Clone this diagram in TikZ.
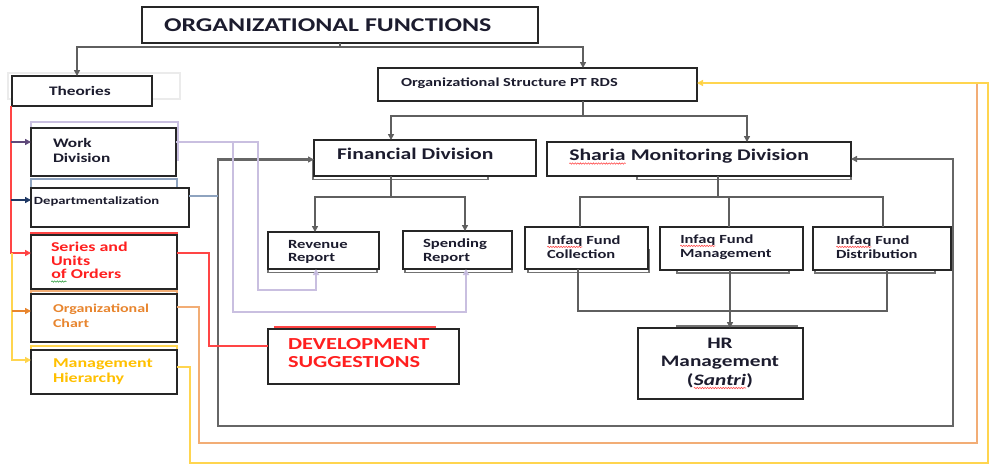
\documentclass[tikz,border=0pt]{standalone}
\usepackage{fontspec}
\newfontfamily\cf[FakeStretch=1.33]{Carlito}
\usetikzlibrary{arrows.meta,calc,decorations.pathmorphing}

\definecolor{ink}{HTML}{1C1C2E}
\definecolor{treegray}{HTML}{5F5F5F}
\definecolor{loopgray}{HTML}{666666}
\definecolor{lav}{HTML}{C9BFE0}
\definecolor{lavtip}{HTML}{B3A2D8}
\definecolor{purp}{HTML}{5F497A}
\definecolor{navyc}{HTML}{1F3864}
\definecolor{steel}{HTML}{8EA3BF}
\definecolor{redl}{HTML}{FF4545}
\definecolor{redt}{HTML}{FF1F1F}
\definecolor{orl}{HTML}{F2AD75}
\definecolor{ort}{HTML}{E8852E}
\definecolor{yel}{HTML}{FFD54F}
\definecolor{yelt}{HTML}{FFC000}
\definecolor{greenw}{HTML}{2E9E3E}

% font size helper
\newcommand\fs[2]{\fontsize{#1}{#2}\selectfont}
% box given by its corner coordinates
\newcommand\boxnode[5]{\node[box, minimum width={(#4-#2)*1pt}, minimum height={(#5-#3)*1pt}] (#1) at ({(#2+#4)/2},{(#3+#5)/2}) {};}
% word with a wavy proofing underline
\newcommand\spell[2]{\tikz[baseline=(sq.base)]{\node[inner sep=0pt,outer sep=0pt,anchor=base] (sq) {#2};\draw[#1,line width=0.55pt,decorate,decoration={snake,amplitude=0.7pt,segment length=2.6pt}] ([yshift=-2.6pt]sq.base west) -- ([yshift=-2.6pt]sq.base east);}}

\begin{document}
\begin{tikzpicture}[x=1pt,y=-1pt,
  box/.style={draw=black!85, line width=1.3pt, fill=white, inner sep=0pt, outer sep=0pt},
  backbox/.style={line width=1.1pt},
  shadowbox/.style={draw=black!55, line width=1.1pt, fill=white},
  tree/.style={draw=treegray, line width=1.8pt},
  arr/.style={-{Triangle[length=6pt,width=6pt]}},
  bigloop/.style={draw=loopgray, line width=2.2pt, {Triangle[length=6pt,width=6pt]}-{Triangle[length=6pt,width=6pt]}},
  lavline/.style={draw=lav, line width=1.5pt, -{Triangle[length=6pt,width=6pt,fill=lavtip]}},
  redline/.style={draw=redl, line width=1.5pt},
  orline/.style={draw=orl, line width=1.6pt},
  yelline/.style={draw=yel, line width=1.6pt},
  lbl/.style={inner sep=0pt, outer sep=0pt, anchor=west, align=left, text=ink}]

\useasboundingbox (0,0) rectangle (989,464);
\fill[white] (0,0) rectangle (989,464);

% coloured frames behind the left-hand boxes
\draw[backbox, draw=black!8] (8,73) rectangle (180,99);
\draw[backbox, draw=lav] (31,122) rectangle (178,160);
\draw[backbox, draw=steel] (31,179) rectangle (177,195);
\draw[backbox, draw=redl] (31,233) rectangle (177,250);
\draw[backbox, draw=orl] (31,291) rectangle (177,310);
\draw[backbox, draw=yel] (31,346) rectangle (177,365);
\draw[backbox, draw=redl] (275,327) rectangle (435,340);

% offset frames under the chart boxes
\draw[shadowbox] (313,160) rectangle (488,179.5);
\draw[shadowbox] (637,160) rectangle (851,179.5);
\draw[shadowbox] (268,250) rectangle (377,272.5);
\draw[shadowbox] (405,250) rectangle (512,272.5);
\draw[shadowbox] (528,250) rectangle (649,272.5);
\draw[shadowbox] (677,250) rectangle (789,273);
\draw[shadowbox] (815,250) rectangle (935,273);
\draw[shadowbox] (677,326) rectangle (797,340);

% boxes
\boxnode{title}{142}{7}{538}{43}
\boxnode{theories}{12}{76}{152}{106}
\boxnode{work}{31}{128}{176}{176}
\boxnode{dept}{31}{188}{189}{227}
\boxnode{series}{31}{235}{177}{289}
\boxnode{orgchart}{31}{294}{177}{342}
\boxnode{mgmt}{31}{350}{177}{394}
\boxnode{orgstruct}{378}{68}{697}{101}
\boxnode{fin}{314}{140}{536}{176}
\boxnode{sharia}{547}{142}{851}{176}
\boxnode{revenue}{268}{232}{379}{269}
\boxnode{spending}{403}{231}{512}{269}
\boxnode{coll}{525}{227}{648}{269}
\boxnode{mgmtf}{660}{227}{803}{270}
\boxnode{dist}{813}{227}{951}{270}
\boxnode{hr}{638}{328}{803}{399}
\boxnode{dev}{268}{329}{459}{384}

% junction points
\coordinate (hb) at (730,311);
\coordinate (bl) at (218,426);
\coordinate (br) at (953,426);
\coordinate (dj) at (218,196);
\coordinate (rl) at (11,106);
\coordinate (wa) at (258,290);
\coordinate (wj) at (233,142);
\coordinate (wb) at (466,312);
\coordinate (rj) at (209,300);
\coordinate (o1) at (199,443);
\coordinate (o2) at (977,443);
\coordinate (o3) at (977,83);
\coordinate (y1) at (190,463);
\coordinate (y2) at (988,463);

% hierarchy connectors
\draw[tree] (title.south) -- ++(0,4) coordinate (tb);
\draw[tree,arr] (tb) -| ([xshift=-5pt]theories.north);
\draw[tree,arr] (tb) -| ([xshift=45.5pt]orgstruct.north);
\draw[tree] ([xshift=45.5pt]orgstruct.south) -- ++(0,15) coordinate (ob);
\draw[tree,arr] (ob) -| ([xshift=-34pt]fin.north);
\draw[tree,arr] (ob) -| ([xshift=48pt]sharia.north);
\draw[tree] ([xshift=-34pt]fin.south) -- ++(0,21) coordinate (fb);
\draw[tree,arr] (fb) -| ([xshift=-8.5pt]revenue.north);
\draw[tree,arr] (fb) -| ([xshift=7.5pt]spending.north);
\draw[tree] ([xshift=19pt]sharia.south) -- ++(0,21) coordinate (sb);
\draw[tree] (sb) -| ([xshift=-6.5pt]coll.north);
\draw[tree] (sb) -| ([xshift=-2.5pt]mgmtf.north);
\draw[tree] (sb) -| ([xshift=1pt]dist.north);
\draw[tree] ([xshift=-8.5pt]coll.south) |- (hb) -| ([xshift=5pt]dist.south);
\draw[tree,arr] ([xshift=-1.5pt]mgmtf.south) -- ([xshift=9.5pt]hr.north);

% frame round the two divisions
\draw[bigloop] ([yshift=-1.5pt]fin.west) -| (bl) -- (br) |- (sharia.east);
\draw[draw=steel, line width=1.4pt] ([yshift=11.5pt]dept.east) -- (dj);

% left-hand feed from the theories
\draw[redline, -{Triangle[length=6pt,width=6pt,fill=redt]}] (rl) |- ([yshift=9pt]series.west);
\draw[draw=purp, line width=1.4pt, -{Triangle[length=6pt,width=6pt]}] ($(work.west)+(-20,-10)$) -- ([yshift=10pt]work.west);
\draw[draw=navyc, line width=1.4pt, -{Triangle[length=6pt,width=6pt]}] ($(dept.west)+(-20,-7.5)$) -- ([yshift=7.5pt]dept.west);
\draw[yelline, -{Triangle[length=6pt,width=6pt,fill=yelt]}] ($(series.west)+(-19,-9)$) |- ([yshift=12pt]mgmt.west);
\draw[draw=ort, line width=1.4pt, -{Triangle[length=6pt,width=6pt]}] ($(orgchart.west)+(-19,-7)$) -- ([yshift=7pt]orgchart.west);

% links out of the left-hand boxes
\draw[lavline] ([yshift=10pt]work.east) -| (wa) -| ([xshift=-7.5pt]revenue.south);
\draw[lavline] (wj) |- (wb) -- ([xshift=8.5pt]spending.south);
\draw[redline] ([yshift=9pt]series.east) -| (rj) |- ([yshift=10.5pt]dev.west);
\draw[orline] ([yshift=11pt]orgchart.east) -| (o1) -- (o2) -- (o3);
\draw[yelline, -{Triangle[length=6pt,width=6pt,fill=yelt]}] ([yshift=5pt]mgmt.east) -| (y1) -- (y2) |- ([yshift=1.5pt]orgstruct.east);

% labels
\node[lbl, font=\cf\bfseries\fs{19.5}{23}] (title-t) at (164,25) {ORGANIZATIONAL FUNCTIONS};
\node[lbl, font=\cf\bfseries\fs{13}{15}] (theories-t) at (49,91) {Theories};
\node[lbl, font=\cf\bfseries\fs{13}{15}] (work-t) at (53,150) {Work\\Division};
\node[lbl, font=\cf\bfseries\fs{11}{13}] (dept-t) at (34,201) {Departmentalization};
\node[lbl, text=redt, font=\cf\bfseries\fs{13.5}{13.5}] (series-t) at (51,262.5) {Series and\\Units\\\spell{greenw}{of} Orders};
\node[lbl, text=ort, font=\cf\bfseries\fs{12}{15}] (orgchart-t) at (53,315.5) {Organizational\\Chart};
\node[lbl, text=yelt, font=\cf\bfseries\fs{13.5}{15}] (mgmt-t) at (53,371.5) {Management\\Hierarchy};
\node[lbl, font=\cf\bfseries\fs{12.3}{15}] (orgstruct-t) at (401,83) {Organizational Structure PT RDS};
\node[lbl, font=\cf\bfseries\fs{16.3}{19}] (fin-t) at (337,154) {Financial Division};
\node[lbl, font=\cf\bfseries\fs{16.3}{19}] (sharia-t) at (569,157) {\spell{redl}{Sharia} Monitoring Division};
\node[lbl, font=\cf\bfseries\fs{12.5}{13}] (revenue-t) at (288,251.5) {Revenue\\Report};
\node[lbl, font=\cf\bfseries\fs{12.5}{14}] (spending-t) at (423,251) {Spending\\Report};
\node[lbl, font=\cf\bfseries\fs{12.4}{14}] (coll-t) at (547,247) {\spell{redl}{Infaq} Fund\\Collection};
\node[lbl, font=\cf\bfseries\fs{12.4}{14}] (mgmtf-t) at (680,247) {\spell{redl}{Infaq} Fund\\Management};
\node[lbl, font=\cf\bfseries\fs{12.4}{14}] (dist-t) at (836,247) {\spell{redl}{Infaq} Fund\\Distribution};
\node[lbl, text=redt, font=\cf\bfseries\fs{16.8}{18}] (dev-t) at (288,353) {DEVELOPMENT\\SUGGESTIONS};
\node[lbl, anchor=center, align=center, font=\cf\bfseries\fs{16}{18.5}] (hr-t) at (720,363.5) {HR\\Management\\(\spell{redl}{\itshape Santri})};
\end{tikzpicture}
\end{document}
